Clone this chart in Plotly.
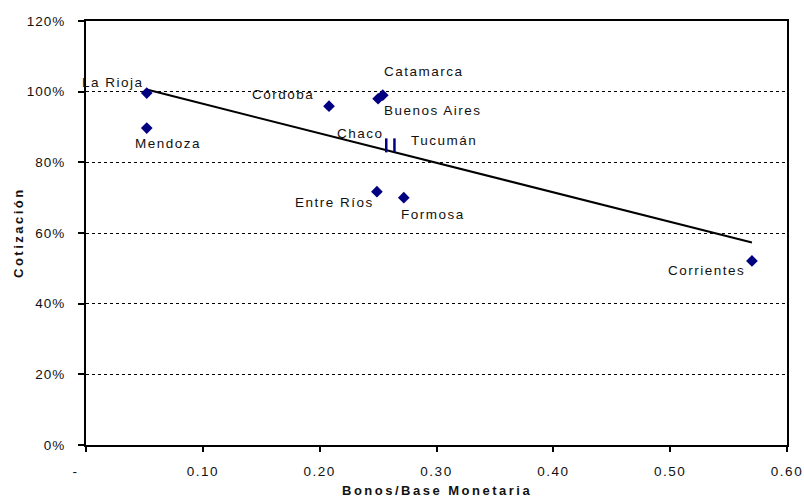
import plotly.graph_objects as go

# ---- data ----
provinces = ["La Rioja", "Mendoza", "Córdoba", "Catamarca", "Buenos Aires",
             "Entre Ríos", "Formosa", "Corrientes"]
bonos_base = [0.052, 0.052, 0.208, 0.254, 0.250, 0.249, 0.272, 0.570]
cotizacion = [0.996, 0.897, 0.959, 0.990, 0.980, 0.717, 0.700, 0.521]

bar_provinces = ["Chaco", "Tucumán"]
bar_bonos_base = [0.257, 0.264]
bar_cotizacion = [0.848, 0.848]

trend_x = [0.052, 0.570]
trend_y = [1.006, 0.573]

x_tickvals = [0, 0.1, 0.2, 0.3, 0.4, 0.5, 0.6]
x_ticktext = ["-" + "\u00a0" * 4, "0.10", "0.20", "0.30", "0.40", "0.50", "0.60"]
y_tickvals = [0, 0.2, 0.4, 0.6, 0.8, 1.0, 1.2]
y_ticktext = ["0%", "20%", "40%", "60%", "80%", "100%", "120%"]

# label offsets in pixels (dx, dy) relative to each point
label_offsets = {
    "La Rioja": (-34, 11), "Mendoza": (21, -15), "Córdoba": (-46, 12),
    "Catamarca": (41, 24), "Buenos Aires": (55, -12), "Chaco": (-26, 12),
    "Tucumán": (50, 5), "Entre Ríos": (-42, -11), "Formosa": (29, -17),
    "Corrientes": (-45, -10),
}

FONT = "Liberation Sans, Arial, sans-serif"
NAVY = "#000080"


def spaced(t, sp=1.5):
    return f'<span style="letter-spacing:{sp}px">{t}</span>'


fig = go.Figure()

fig.add_trace(go.Scatter(x=trend_x, y=trend_y, mode="lines",
                         line=dict(color="black", width=2), hoverinfo="skip"))
fig.add_trace(go.Scatter(x=bonos_base, y=cotizacion, mode="markers",
                         marker=dict(symbol="diamond", size=9, color=NAVY,
                                     line=dict(width=0))))
fig.add_trace(go.Scatter(x=bar_bonos_base, y=bar_cotizacion, mode="markers",
                         marker=dict(symbol="line-ns", size=10,
                                     line=dict(width=2.5, color=NAVY))))

annotations = []
all_names = provinces + bar_provinces
all_x = bonos_base + bar_bonos_base
all_y = cotizacion + bar_cotizacion
for n, xv, yv in zip(all_names, all_x, all_y):
    dx, dy = label_offsets[n]
    annotations.append(dict(x=xv, y=yv, xref="x", yref="y", text=spaced(n),
                            showarrow=False, xanchor="center", yanchor="middle",
                            xshift=dx, yshift=dy,
                            font=dict(family=FONT, size=13.5, color="#111")))

annotations.append(dict(x=0.5, y=0, xref="paper", yref="paper",
                        text="<b>" + spaced("Bonos/Base Monetaria", 2.5) + "</b>",
                        showarrow=False, xanchor="center", yanchor="middle",
                        yshift=-45, font=dict(family=FONT, size=13, color="#111")))
annotations.append(dict(x=0, y=0.5, xref="paper", yref="paper",
                        text="<b>" + spaced("Cotización", 2.5) + "</b>",
                        textangle=-90, showarrow=False, xanchor="center",
                        yanchor="middle", xshift=-68,
                        font=dict(family=FONT, size=13, color="#111")))

fig.update_layout(
    width=804, height=497,
    margin=dict(l=86, r=17, t=21, b=52, autoexpand=False),
    plot_bgcolor="white", paper_bgcolor="white",
    showlegend=False,
    annotations=annotations,
    font=dict(family=FONT, size=13.5, color="#111"),
)

fig.update_xaxes(range=[0, 0.6], tickvals=x_tickvals,
                 ticktext=[spaced(t) for t in x_ticktext],
                 showgrid=False, zeroline=False, automargin=False,
                 showline=True, linecolor="black", linewidth=2, mirror=True,
                 ticks="outside", ticklen=5, tickwidth=2, tickcolor="black",
                 ticklabelstandoff=8)
fig.update_yaxes(range=[0, 1.2], tickvals=y_tickvals,
                 ticktext=[spaced(t, 1) for t in y_ticktext],
                 showgrid=True, gridcolor="black", gridwidth=1, griddash="dot",
                 zeroline=False, automargin=False,
                 showline=True, linecolor="black", linewidth=2, mirror=True,
                 ticks="outside", ticklen=6, tickwidth=2, tickcolor="black",
                 ticklabelstandoff=10)

fig.write_html("out.html")
